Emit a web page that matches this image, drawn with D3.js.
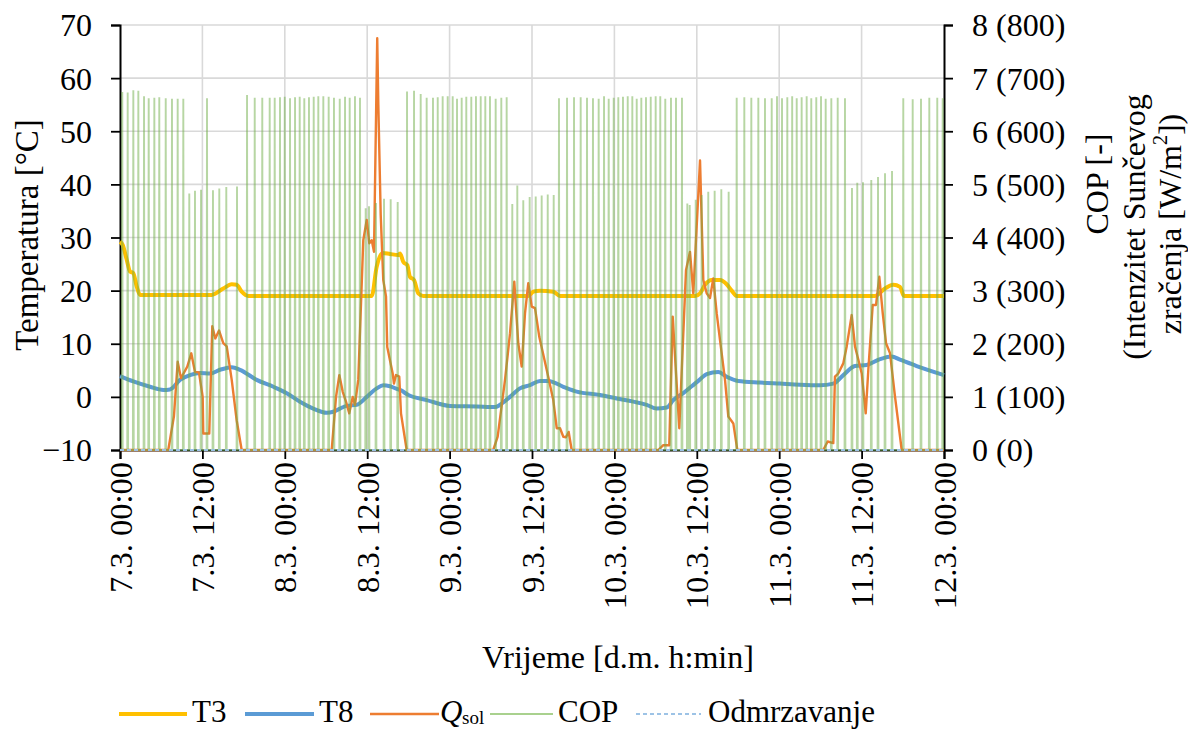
<!DOCTYPE html>
<html><head><meta charset="utf-8">
<script src="https://cdn.jsdelivr.net/npm/d3@7"></script>
<style>
body{margin:0;background:#fff}
svg{display:block}
text{font-family:'Liberation Serif','Times New Roman',Times,'DejaVu Serif','Noto Serif',serif;fill:#000}
</style>
</head><body>
<svg id="c" width="1188" height="729"></svg>
<script>
// ---------- DATA (hours from 7.3. 00:00) ----------
const xTickHours = [0,12,24,36,48,60,72,84,96,108,120];
const xTickLabels = ["7.3. 00:00","7.3. 12:00","8.3. 00:00","8.3. 12:00","9.3. 00:00","9.3. 12:00","10.3. 00:00","10.3. 12:00","11.3. 00:00","11.3. 12:00","12.3. 00:00"];
const leftTicks = [-10,0,10,20,30,40,50,60,70];
const rightTicks = [0,1,2,3,4,5,6,7,8];
const rightTickLabels = ["0 (0)","1 (100)","2 (200)","3 (300)","4 (400)","5 (500)","6 (600)","7 (700)","8 (800)"];

const t3Hours = [0,0.39,0.98,1.46,1.94,2.43,2.91,13.35,15.04,16.27,16.99,17.72,18.68,36.66,37.38,38.26,39.32,40.53,40.78,41.26,41.84,42.23,42.82,43.44,44.17,59.46,60.19,61.16,63.10,64.08,83.74,84.47,85.20,86.17,87.38,88.35,89.08,89.81,109.95,111.41,112.62,113.59,114.17,120];
const t3Values = [29.2,28.6,25.8,23.6,23.3,20.8,19.2,19.2,20.4,21.2,21.1,19.8,19.0,19.0,24.5,27.1,26.9,26.7,27.0,25.4,24.8,22.6,22.0,19.5,19.0,19.0,19.8,20.0,19.8,19.0,19.0,19.5,21.1,22.0,22.0,21.2,20.0,19.0,19.0,20.4,21.1,20.7,19.0,19.0];

const t8Hours = [0,1.94,4.37,6.31,7.28,8.74,10.19,11.65,13.11,14.56,16.27,17.48,19.91,22.33,24.28,26.21,28.15,30.10,31.06,32.04,33.01,34.47,35.93,37.38,38.34,39.32,40.53,40.78,41.99,44.66,48.06,51.95,54.61,55.34,56.80,58.25,59.71,61.17,62.37,64.56,66.51,69.90,72.33,74.75,76.70,78.16,79.62,80.58,82.03,83.26,84.47,85.44,87.13,88.35,90.04,93.20,96.12,99.03,101.94,103.88,105.34,107.04,108.74,110.68,112.38,113.59,116.02,120];
const t8Values = [3.9,2.9,1.9,1.3,1.4,3.2,4.1,4.5,4.4,5.1,5.6,5.1,3.2,1.9,0.7,-0.9,-2.2,-3.0,-2.8,-2.2,-1.7,-1.5,0.0,1.6,2.2,2.0,1.4,1.3,0.35,-0.6,-1.7,-1.8,-1.9,-1.5,0.0,1.6,2.2,3.0,3.0,1.9,1.0,0.35,-0.3,-0.9,-1.5,-2.2,-2.0,-0.6,0.7,2.0,3.3,4.3,4.7,3.8,3.0,2.7,2.5,2.3,2.2,2.5,4.1,5.8,6.0,7.1,7.6,7.0,5.8,4.1];

const qHours = [0,7.03,7.86,8.40,8.88,9.80,10.38,10.92,11.50,12.04,12.13,13.00,13.44,13.88,14.42,15.04,15.54,16.27,16.99,17.72,
 30.83,31.46,31.94,32.43,32.91,33.39,33.89,34.22,34.70,35.43,35.93,36.31,36.66,36.99,37.46,37.62,37.97,38.34,38.74,38.92,39.71,39.90,40.19,40.67,40.92,41.75,
 54.36,55.00,56.07,56.80,57.42,58.00,58.50,58.98,59.46,59.96,60.44,61.06,62.14,63.10,63.60,64.08,64.56,64.95,65.34,65.78,
 78.39,79.12,79.99,80.49,81.45,82.43,83.01,83.49,84.47,84.95,85.44,85.92,86.40,86.90,87.38,88.11,88.59,89.32,89.90,
 102.42,103.06,103.88,104.12,104.60,105.33,105.83,106.56,107.04,108.02,108.60,108.98,109.62,110.10,110.58,111.08,111.56,112.14,112.87,113.84,120];
const qValues = [0,0,64,166,135,157,182,147,146,100,31,31,233,210,225,201,195,132,56,0,
 0,100,141,110,91,69,100,85,132,395,433,389,395,373,775,650,442,320,289,194,144,125,141,138,69,0,
 0,25,132,220,317,201,157,257,314,270,267,213,151,94,41,41,25,24,34,0,
 0,9,9,251,41,339,373,295,545,320,295,286,323,257,207,132,63,50,0,
 0,16,13,138,144,163,195,254,195,144,69,151,273,273,326,257,201,182,100,0,0];

const copHours = [0.33,1.12,1.94,2.67,3.50,4.18,5.00,5.72,6.66,7.57,8.40,9.22,10.09,10.92,11.80,12.67,13.54,14.46,15.48,17.04,
 18.50,19.62,20.72,21.80,22.53,23.30,23.99,24.76,25.49,26.17,26.84,27.52,28.21,28.88,29.61,30.39,31.16,32.00,32.77,33.45,34.22,34.95,
 35.78,36.26,37.28,38.45,39.42,40.44,
 41.80,42.82,43.79,44.66,45.58,46.27,46.99,47.72,48.45,49.08,49.76,50.43,51.16,51.84,52.53,53.20,53.88,54.71,55.53,56.31,
 57.13,57.86,58.73,59.66,60.54,61.41,62.29,63.16,
 63.93,65.10,66.12,67.09,68.01,68.88,69.71,70.49,71.17,71.90,72.57,73.25,73.94,74.61,75.25,75.92,76.60,77.29,78.01,78.68,79.41,80.24,80.97,81.84,
 82.62,82.97,83.84,84.71,85.67,86.60,87.57,88.64,
 89.81,90.92,91.94,92.96,93.93,94.91,95.68,96.41,97.18,97.89,98.55,99.27,100.00,100.67,101.40,102.09,102.77,103.59,104.52,105.58,
 106.60,107.37,108.20,109.41,110.39,111.41,112.43,
 114.07,115.44,116.65,117.86,119.02,119.81];
const copValues = [6.74,6.73,6.77,6.76,6.66,6.62,6.63,6.64,6.62,6.61,6.61,6.61,4.83,4.88,4.90,6.62,4.89,4.92,4.95,4.96,
 6.68,6.63,6.63,6.63,6.63,6.64,6.65,6.62,6.64,6.65,6.62,6.64,6.65,6.66,6.66,6.65,6.63,6.61,6.65,6.63,6.66,6.63,
 4.55,4.59,4.65,4.73,4.72,4.67,
 6.75,6.76,6.70,6.63,6.63,6.64,6.66,6.66,6.66,6.61,6.63,6.65,6.65,6.66,6.66,6.66,6.66,6.61,6.63,6.64,
 4.63,4.98,4.70,4.76,4.77,4.79,4.81,4.80,
 6.62,6.63,6.64,6.64,6.63,6.62,6.61,6.66,6.61,6.63,6.64,6.65,6.66,6.66,6.61,6.63,6.64,6.65,6.66,6.66,6.61,6.63,6.63,6.63,
 4.64,4.61,4.71,4.80,4.86,4.88,4.91,4.86,
 6.63,6.64,6.63,6.63,6.62,6.62,6.66,6.62,6.64,6.66,6.62,6.64,6.66,6.62,6.64,6.66,6.61,6.62,6.63,6.62,
 4.93,5.03,5.04,5.08,5.14,5.21,5.25,
 6.62,6.60,6.61,6.63,6.63,6.62];

const odmHours = [0,120];
const odmValues = [0,0];

const legendItems = ["T3","T8","Q","COP","Odmrzavanje"];

// ---------- CHART ----------
const FONT = "'Liberation Serif','Times New Roman',Times,'DejaVu Serif','Noto Serif',serif";
const svg = d3.select("#c");
const L = 120, R = 944, T = 25, B = 450;
const x = d3.scaleLinear().domain([0,120]).range([L,R]);
const yL = d3.scaleLinear().domain([-10,70]).range([B,T]);
const yR = d3.scaleLinear().domain([0,8]).range([B,T]);
const yQ = d3.scaleLinear().domain([0,800]).range([B,T]);

const col = {t3:"#ffc000", t8:"#5b9bd5", q:"#ed7d31", cop:"#70ad47", odm:"#9dc3e6"};

// gridlines
const grid = svg.append("g");
grid.selectAll("line.h").data(leftTicks.filter(d=>d>-10)).join("line")
  .attr("x1",L).attr("x2",R).attr("y1",d=>yL(d)).attr("y2",d=>yL(d))
  .attr("stroke","#d9d9d9").attr("stroke-width",1.6);
grid.selectAll("line.v").data(xTickHours.slice(1,-1)).join("line")
  .attr("y1",T).attr("y2",B).attr("x1",d=>x(d)).attr("x2",d=>x(d))
  .attr("stroke","#d9d9d9").attr("stroke-width",1.6);

// axes
const fs = 32;
const axL = svg.append("g").attr("transform",`translate(${L},0)`)
  .call(d3.axisLeft(yL).tickValues(leftTicks).tickSize(9).tickPadding(19).tickFormat(d3.format("d")));
const axR = svg.append("g").attr("transform",`translate(${R},0)`)
  .call(d3.axisRight(yR).tickValues(rightTicks).tickSize(9).tickPadding(19).tickFormat((d,i)=>rightTickLabels[i]));
const axB = svg.append("g").attr("transform",`translate(0,${B})`)
  .call(d3.axisBottom(x).tickValues(xTickHours).tickSize(9).tickFormat((d,i)=>xTickLabels[i]));
[axL,axR,axB].forEach(a=>{
  a.attr("font-family",null).attr("font-size",null);
  a.selectAll("path.domain").attr("stroke","#000").attr("stroke-width",2);
  a.selectAll(".tick line").attr("stroke","#000").attr("stroke-width",1.8);
  a.selectAll("text").style("font-family",FONT).attr("font-size",fs).attr("fill","#000");
});
axL.selectAll("text").attr("dy","0.34em");
axR.selectAll("text").attr("dy","0.34em");
axB.selectAll("text")
  .attr("font-size",32.5)
  .attr("transform","rotate(-90)")
  .attr("text-anchor","end")
  .attr("x",-12).attr("y",0).attr("dy","0.34em");

// series
const lineT = d3.line().x(d=>x(d[0])).y(d=>yL(d[1])).curve(d3.curveMonotoneX);
svg.append("path").datum(t3Hours.map((h,i)=>[h,t3Values[i]]))
  .attr("d",lineT).attr("fill","none").attr("stroke",col.t3).attr("stroke-width",4).attr("stroke-linejoin","round");
svg.append("path").datum(t8Hours.map((h,i)=>[h,t8Values[i]]))
  .attr("d",lineT).attr("fill","none").attr("stroke",col.t8).attr("stroke-width",4).attr("stroke-linejoin","round");

const lineQ = d3.line().x(d=>x(d[0])).y(d=>yQ(d[1]));
svg.append("path").datum(qHours.map((h,i)=>[h,qValues[i]]))
  .attr("d",lineQ).attr("fill","none").attr("stroke",col.q).attr("stroke-width",2.4).attr("stroke-linejoin","round");

const copPts = [];
copHours.forEach((h,i)=>{ copPts.push([h-0.06,0],[h,copValues[i]],[h+0.06,0]); });
const lineC = d3.line().x(d=>x(d[0])).y(d=>yR(d[1]));
svg.append("path").datum(copPts)
  .attr("d",lineC).attr("fill","none").attr("stroke",col.cop).attr("stroke-width",1.9)
  .attr("stroke-opacity",0.5);

svg.append("path").datum(odmHours.map((h,i)=>[h,odmValues[i]]))
  .attr("d",lineC).attr("fill","none").attr("stroke",col.odm).attr("stroke-width",2).attr("stroke-dasharray","4,3");

// axis titles
const title = (tr, size) => svg.append("text").attr("transform",tr).attr("text-anchor","middle")
  .style("font-family",FONT).attr("font-size",size);
title("translate(618,668)",fs).text("Vrijeme [d.m. h:min]");
title("translate(27,235) rotate(-90)",33).attr("dy","0.34em").text("Temperatura [°C]");
title("translate(1097,184) rotate(-90)",32).attr("dy","0.34em").text("COP [-]");
title("translate(1134,227) rotate(-90)",32).attr("dy","0.34em").text("(Intenzitet Sunčevog");
const t3l = title("translate(1170,224) rotate(-90)",32).attr("dy","0.34em");
t3l.append("tspan").text("zračenja [W/m");
t3l.append("tspan").attr("font-size",20).attr("dy","-0.7em").text("2");
t3l.append("tspan").attr("dy","0.45em").text("])");

// legend
const ly = 711, lfs = 31;
const leg = svg.append("g");
const legDefs = [
  {x1:119,x2:187,tx:192,c:col.t3,w:4,dash:null},
  {x1:245,x2:314,tx:319,c:col.t8,w:4,dash:null},
  {x1:370,x2:439,tx:440,c:col.q,w:2.4,dash:null},
  {x1:490,x2:553,tx:558,c:"#a9d18e",w:2,dash:null},
  {x1:636,x2:701,tx:708,c:col.odm,w:2,dash:"4,3"}
];
legDefs.forEach((d,i)=>{
  leg.append("line").attr("x1",d.x1).attr("x2",d.x2).attr("y1",ly+3).attr("y2",ly+3)
    .attr("stroke",d.c).attr("stroke-width",d.w).attr("stroke-dasharray",d.dash);
  if (legendItems[i]==="Q") {
    leg.append("text").attr("x",d.tx).attr("y",ly).attr("dy","0.34em")
      .style("font-family",FONT).attr("font-size",lfs).attr("font-style","italic").text("Q");
    leg.append("text").attr("x",d.tx+22).attr("y",ly+13)
      .style("font-family",FONT).attr("font-size",19).text("sol");
  } else {
    leg.append("text").attr("x",d.tx).attr("y",ly).attr("dy","0.34em")
      .style("font-family",FONT).attr("font-size",lfs).text(legendItems[i]);
  }
});
</script>
</body></html>
